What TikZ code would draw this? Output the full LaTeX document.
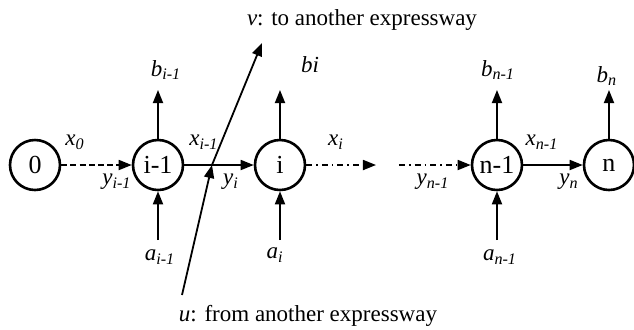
\documentclass[tikz,border=0pt]{standalone}
\usepackage{fontspec}
\setmainfont{Liberation Serif}
\usetikzlibrary{arrows.meta}

\newcommand{\lbl}[2]{\textit{#1\textsubscript{#2}}}

\begin{document}
\begin{tikzpicture}[x=0.5pt, y=-0.5pt,
    font=\fontsize{11.5}{13}\selectfont,
    state/.style={circle, draw, line width=1.3pt, minimum size=25pt, inner sep=0pt,
      font=\fontsize{13}{15}\selectfont},
    flow/.style={-{Triangle[length=6.5pt, width=5pt]}, line width=0.9pt},
    dashflow/.style={flow, dash pattern=on 3pt off 1.6pt},
    dotflow/.style={flow, dash pattern=on 3pt off 2pt on 0.8pt off 2pt}]
  \useasboundingbox (0, 0) rectangle (634, 329);

  % Sections of the expressway
  \node[state] (n0)  at (35, 165)  {0};
  \node[state] (nim) at (158, 165) {i-1};
  \node[state] (ni)  at (280, 165) {i};
  \node[state] (nnm) at (497, 165) {n-1};
  \node[state] (nn)  at (609, 165) {n};

  % Flows along the road
  \coordinate (gapl) at (376, 165);
  \coordinate (gapr) at (399, 165);
  \draw[dashflow] (n0) -- (nim);
  \draw[flow] (nim) -- (ni);
  \draw[dotflow] (ni) -- (gapl);
  \draw[dotflow] (gapr) -- (nnm);
  \draw[flow] (nnm) -- (nn);

  \node (x0)  at (75, 142)  {\lbl{x}{0}};
  \node (yim) at (117, 182) {\lbl{y}{i-1}};
  \node (xim) at (204, 142) {\lbl{x}{i-1}};
  \node (yi)  at (231, 182) {\lbl{y}{i}};
  \node (xi)  at (336, 142) {\lbl{x}{i}};
  \node (ynm) at (433, 182) {\lbl{y}{n-1}};
  \node (xnm) at (542, 142) {\lbl{x}{n-1}};
  \node (yn)  at (569, 182) {\lbl{y}{n}};

  % Off-ramps
  \coordinate (bimt) at (158, 90);
  \coordinate (bit)  at (280, 90);
  \coordinate (bnmt) at (497, 90);
  \coordinate (bnt)  at (609, 90);
  \draw[flow] (nim.north) -- (bimt);
  \draw[flow] (ni.north) -- (bit);
  \draw[flow] (nnm.north) -- (bnmt);
  \draw[flow] (nn.north) -- (bnt);
  \node (bim) at (166, 70) {\lbl{b}{i-1}};
  \node (bi)  at (310, 65) {\textit{bi}};
  \node (bnm) at (498, 70) {\lbl{b}{n-1}};
  \node (bn)  at (607, 76) {\lbl{b}{n}};

  % On-ramps
  \coordinate (aimb) at (158, 240);
  \coordinate (aib)  at (280, 240);
  \coordinate (anmb) at (497, 240);
  \draw[flow] (aimb) -- (nim.south);
  \draw[flow] (aib) -- (ni.south);
  \draw[flow] (anmb) -- (nnm.south);
  \node (aim) at (160, 257) {\lbl{a}{i-1}};
  \node (ai)  at (275, 255) {\lbl{a}{i}};
  \node (anm) at (500, 257) {\lbl{a}{n-1}};

  % Link to another expressway
  \coordinate (ue)    at (182, 295);
  \coordinate (cross) at (212, 165);
  \coordinate (ve)    at (262, 43);
  \draw[flow] (ue) -- (cross);
  \draw[flow] (cross) -- (ve);
  \node (v) at (362, 20)  {\textit{v}: to another expressway};
  \node (u) at (308, 316) {\textit{u}: from another expressway};
\end{tikzpicture}
\end{document}
